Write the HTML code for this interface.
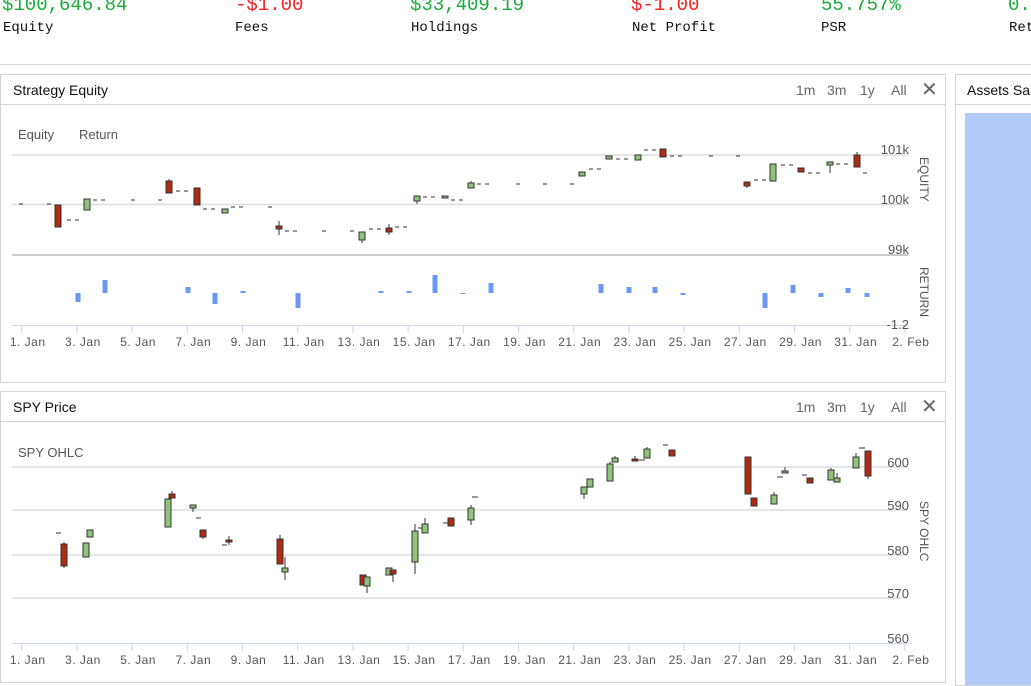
<!DOCTYPE html>
<html><head><meta charset="utf-8"><style>
body{margin:0;width:1031px;height:677px;overflow:hidden;background:#fff;font-family:"Liberation Sans",sans-serif;position:relative}
.st{position:absolute;font-family:"Liberation Mono","DejaVu Sans Mono",monospace}
.v{font-size:19px;top:-6px}
.l{font-size:14px;top:20px;color:#111}
.g{color:#1aab3a}.r{color:#ff2020}
.panel{position:absolute;border:1px solid #d4d4d4;background:#fff;overflow:hidden}
.hd{position:absolute;left:0;right:0;top:0;height:29px;border-bottom:1px solid #d4d4d4}
.tt{position:absolute;left:12px;top:7px;font-size:14px;color:#111;white-space:nowrap}
.btn{position:absolute;top:7px;font-size:14px;color:#666}
svg{position:absolute;left:0;top:0}
</style></head><body>
<div class="st v g" style="left:2px">$100,646.84</div><div class="st l" style="left:3px">Equity</div>
<div class="st v r" style="left:235px">-$1.00</div><div class="st l" style="left:235px">Fees</div>
<div class="st v g" style="left:410px">$33,409.19</div><div class="st l" style="left:411px">Holdings</div>
<div class="st v r" style="left:631px">$-1.00</div><div class="st l" style="left:632px">Net Profit</div>
<div class="st v g" style="left:821px">55.757%</div><div class="st l" style="left:821px">PSR</div>
<div class="st v g" style="left:1008px">0.</div><div class="st l" style="left:1009px">Ret</div>
<div style="position:absolute;left:0;right:0;top:64px;height:1px;background:#d4d4d4"></div>

<div class="panel" style="left:0;top:74px;width:944px;height:307px"><div class="hd"><div class="tt">Strategy Equity</div>
<div class="btn" style="left:795px">1m</div><div class="btn" style="left:826px">3m</div><div class="btn" style="left:859px">1y</div><div class="btn" style="left:890px">All</div><div class="btn" style="left:920px;font-size:20px;top:2px">✕</div></div></div>
<div class="panel" style="left:0;top:391px;width:944px;height:290px"><div class="hd"><div class="tt">SPY Price</div>
<div class="btn" style="left:795px">1m</div><div class="btn" style="left:826px">3m</div><div class="btn" style="left:859px">1y</div><div class="btn" style="left:890px">All</div><div class="btn" style="left:920px;font-size:20px;top:2px">✕</div></div></div>
<div class="panel" style="left:955px;top:74px;width:90px;height:610px"><div class="hd"><div class="tt" style="left:11px">Assets Sales</div></div>
<div style="position:absolute;left:9px;top:38px;width:80px;height:580px;background:#b3cbfb"></div></div>

<svg width="1031" height="677" font-family="Liberation Sans, sans-serif">
<g font-size="13" fill="#555"><text x="18" y="139">Equity</text><text x="79" y="139">Return</text><text x="18" y="457">SPY OHLC</text></g>
<g stroke="#ddd" stroke-width="1.5"><line x1="12" y1="155" x2="908" y2="155"/><line x1="12" y1="204.5" x2="908" y2="204.5"/><line x1="12" y1="255" x2="908" y2="255" stroke="#ccc" stroke-width="2"/>
<line x1="12" y1="467" x2="908" y2="467"/><line x1="12" y1="510" x2="908" y2="510"/><line x1="12" y1="555" x2="908" y2="555"/><line x1="12" y1="598" x2="908" y2="598"/></g>
<g stroke="#ccd6eb"><line x1="12" y1="325.5" x2="908" y2="325.5"/><line x1="12" y1="643.5" x2="908" y2="643.5"/></g>
<g id="tk" stroke="#ccd6eb"></g>
<g font-size="13" fill="#555" text-anchor="end"><text x="909" y="154">101k</text><text x="909" y="204">100k</text><text x="909" y="254">99k</text><text x="909" y="329">-1.2</text>
<text x="909" y="467">600</text><text x="909" y="510">590</text><text x="909" y="555">580</text><text x="909" y="598">570</text><text x="909" y="643">560</text></g>
<g font-size="12" fill="#555"><text transform="translate(920,157) rotate(90)">EQUITY</text><text transform="translate(920,267) rotate(90)">RETURN</text><text transform="translate(920,501) rotate(90)">SPY OHLC</text></g>
<g font-size="12" fill="#555" text-anchor="middle" id="lb"></g>
<g id="eq" stroke="#333" stroke-width="1"></g>
<g id="ret" fill="#6b98f7"></g>
<g id="spy" stroke="#333" stroke-width="1"></g>
</svg>
<script>
var ns="http://www.w3.org/2000/svg";function el(p,t,a,txt){var e=document.createElementNS(ns,t);for(var k in a)e.setAttribute(k,a[k]);if(txt)e.textContent=txt;document.getElementById(p).appendChild(e);}
var days=[1,3,5,7,9,11,13,15,17,19,21,23,25,27,29,31,33],names=["1. Jan","3. Jan","5. Jan","7. Jan","9. Jan","11. Jan","13. Jan","15. Jan","17. Jan","19. Jan","21. Jan","23. Jan","25. Jan","27. Jan","29. Jan","31. Jan","2. Feb"];
days.forEach(function(d,i){var x=21.7+(d-1)*27.6;el("tk","line",{x1:x,y1:326,x2:x,y2:333});el("tk","line",{x1:x,y1:644,x2:x,y2:651});el("lb","text",{x:x+6,y:346,"letter-spacing":"0.5"},names[i]);el("lb","text",{x:x+6,y:664,"letter-spacing":"0.5"},names[i]);});
var G="#8fc57a",R="#b22a10";
function c(g,x,t,b,col,wt,wb){if(wt!=null)el(g,"line",{x1:x,y1:wt,x2:x,y2:t});if(wb!=null)el(g,"line",{x1:x,y1:b,x2:x,y2:wb});el(g,"rect",{x:x-3,y:t,width:6,height:Math.max(b-t,2),fill:col=="g"?G:R});}
function d(g,x1,x2,y){el(g,"line",{x1:x1,y1:y,x2:x2,y2:y,"stroke-dasharray":"4,4"});}
d("eq",19,24,204);d("eq",47,52,204);c("eq",58,205,227,"r");d("eq",67,81,220);c("eq",87,199,210,"g");d("eq",93,107,200);d("eq",131,136,200);d("eq",158,163,200);
c("eq",169,181,193,"r",179);d("eq",176,190,191);c("eq",197,188,205,"r");d("eq",203,217,209);c("eq",225,209,213,"g");d("eq",231,245,207);d("eq",268,273,207);
c("eq",279,226,229,"r",221,235);d("eq",285,299,231);d("eq",322,327,231);d("eq",350,355,231);c("eq",362,232,240,"g",null,243);d("eq",369,383,229);c("eq",389,228,232,"r",224,235);d("eq",395,409,227);
c("eq",417,196,201,"g",null,204);d("eq",423,437,197);c("eq",445,196,198,"g");d("eq",451,465,200);c("eq",471,183,188,"g",181);d("eq",477,491,184);d("eq",516,521,184);d("eq",543,548,184);d("eq",570,575,184);
c("eq",582,172,176,"g");d("eq",589,603,169);c("eq",609,156,159,"g");d("eq",616,630,159);c("eq",638,155,160,"g");d("eq",644,658,150);c("eq",663,149,157,"r");d("eq",670,684,156);d("eq",709,714,156);d("eq",736,741,156);
c("eq",747,182,186,"r",null,188);d("eq",754,768,180);c("eq",773,164,181,"g");d("eq",781,795,165);c("eq",801,168,172,"r");d("eq",808,822,173);c("eq",830,162,165,"g",null,173);d("eq",836,850,164);c("eq",857,155,167,"r",152);d("eq",863,868,173);
[[78,293,302],[105,280,293],[188,287,293],[215,293,304],[243,291,293],[298,293,308],[381,291,293],[409,291,293],[435,275,293],[463,293,294],[491,283,293],[601,284,293],[629,287,293],[655,287,293],[683,293,295],[765,293,308],[793,285,293],[821,293,297],[848,288,293],[867,293,297]].forEach(function(a){el("ret","rect",{x:a[0]-2.5,y:a[1],width:5,height:a[2]-a[1]});});
function s(x1,x2,y){el("spy","line",{x1:x1,y1:y,x2:x2,y2:y});}
s(56,61,533);c("spy",64,544,566,"r",542,568);c("spy",86,543,557,"g");c("spy",90,530,537,"g");c("spy",168,499,527,"g");c("spy",172,494,498,"r",491);c("spy",193,505,508,"g",null,512);s(196,201,518);
c("spy",203,530,537,"r",null,539);s(222,227,545);c("spy",229,540,542,"r",536,545);c("spy",280,539,564,"r",535);c("spy",285,568,572,"g",557,580);c("spy",363,575,585,"r");c("spy",367,577,586,"g",null,593);
c("spy",389,568,575,"g");c("spy",393,570,574,"r",null,582);c("spy",415,531,562,"g",524,574);s(418,423,528);c("spy",425,524,533,"g",518);s(443,448,523);c("spy",451,518,526,"r");c("spy",471,508,520,"g",505,525);s(472,478,497);
c("spy",584,487,494,"g",null,499);c("spy",590,479,487,"g");c("spy",610,464,481,"g",462);c("spy",615,458,462,"g",456);c("spy",635,459,461,"r",456);s(639,645,460);c("spy",647,449,458,"g",447);s(663,668,445);c("spy",672,450,456,"r");
c("spy",748,457,494,"r");c("spy",754,498,506,"r");c("spy",774,495,504,"g",492);s(777,783,477);c("spy",785,471,473,"g",467);s(802,807,475);c("spy",810,478,483,"r");c("spy",831,470,480,"g",468);c("spy",837,478,482,"g",473);
c("spy",856,457,468,"g",453);s(859,865,448);c("spy",868,451,476,"r",null,479);
</script>
</body></html>
